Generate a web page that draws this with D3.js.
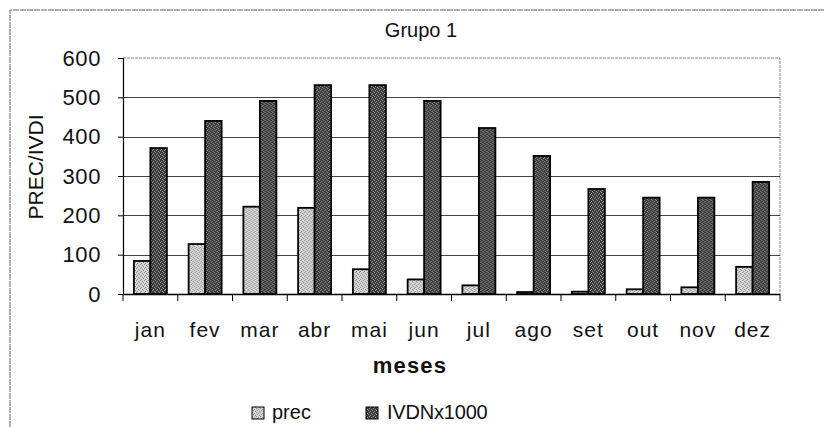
<!DOCTYPE html>
<html>
<head>
<meta charset="utf-8">
<script src="https://cdn.jsdelivr.net/npm/d3@7"></script>
<style>
  html, body { margin: 0; padding: 0; background: #fff; }
  svg { display: block; }
  text { font-family: "Liberation Sans", Arial, sans-serif; fill: #111; }
</style>
</head>
<body>
<svg id="chart" width="824" height="427"></svg>
<script>
// Monthly precipitation and NDVI (x1000), Grupo 1
const months = ["jan", "fev", "mar", "abr", "mai", "jun", "jul", "ago", "set", "out", "nov", "dez"];
const prec = [84, 127, 222, 219, 63, 37, 22, 5, 6, 12, 17, 69];
const ndvi = [371, 440, 491, 531, 531, 491, 422, 351, 267, 245, 245, 285];
const seriesNames = ["prec", "IVDNx1000"];
const yTicks = [0, 100, 200, 300, 400, 500, 600];

const svg = d3.select("#chart");
const margin = { left: 123, right: 44, top: 58, bottom: 133 };
const W = 824, H = 427;
const plotW = W - margin.left - margin.right;
const plotH = H - margin.top - margin.bottom;
const FONT = "Liberation Sans, Arial, sans-serif";

// stipple fills
const defs = svg.append("defs");
function stipple(id, base, dot, dots) {
  const p = defs.append("pattern").attr("id", id)
    .attr("patternUnits", "userSpaceOnUse").attr("width", 4).attr("height", 4);
  p.append("rect").attr("width", 4).attr("height", 4).attr("fill", base);
  dots.forEach(([x, y]) => p.append("rect").attr("x", x).attr("y", y)
    .attr("width", 1).attr("height", 1).attr("fill", dot));
}
stipple("fillPrec", "#d6d6d6", "#888", [[0, 0], [2, 1], [1, 2], [3, 3]]);
stipple("fillNdvi", "#3a3a3a", "#999", [[1, 0], [3, 1], [0, 2], [2, 3]]);
const fills = ["url(#fillPrec)", "url(#fillNdvi)"];

// outer chart frame
svg.append("path").attr("d", `M10,${H} V10 H${W}`)
  .attr("fill", "none").attr("stroke", "#666").attr("stroke-width", 1)
  .attr("stroke-dasharray", "6,1");

const g = svg.append("g").attr("transform", `translate(${margin.left},${margin.top})`);

const x0 = d3.scaleBand().domain(months).range([0, plotW]).paddingInner(0).paddingOuter(0);
const x1 = d3.scaleBand().domain(seriesNames).range([0, x0.bandwidth()])
  .paddingInner(0).paddingOuter(0.66);
const y = d3.scaleLinear().domain([0, 600]).range([plotH, 0]);

// plot area border (top and right)
g.append("path").attr("d", `M0,0 H${plotW} V${plotH}`)
  .attr("fill", "none").attr("stroke", "#888").attr("stroke-width", 1)
  .attr("stroke-dasharray", "3,1");

// gridlines
g.append("g").selectAll("line").data(yTicks.filter(t => t > 0 && t < 600)).join("line")
  .attr("x1", 0).attr("x2", plotW)
  .attr("y1", d => Math.round(y(d)) + 0.5).attr("y2", d => Math.round(y(d)) + 0.5)
  .attr("stroke", "#444").attr("stroke-width", 1);

// bars
const rows = months.map((m, i) => ({ m, vals: [prec[i], ndvi[i]] }));
const grp = g.append("g").selectAll("g").data(rows).join("g")
  .attr("transform", d => `translate(${x0(d.m)},0)`);
grp.selectAll("rect").data(d => d.vals.map((v, k) => ({ v, k }))).join("rect")
  .attr("x", d => x1(seriesNames[d.k]))
  .attr("width", x1.bandwidth())
  .attr("y", d => y(d.v))
  .attr("height", d => y(0) - y(d.v))
  .attr("fill", d => fills[d.k])
  .attr("stroke", "#000").attr("stroke-width", 1.8);

// y axis
const yAxis = g.append("g").call(d3.axisLeft(y).tickValues(yTicks).tickSize(5).tickPadding(17));
yAxis.select(".domain").attr("stroke", "#000").attr("stroke-width", 1.2);
yAxis.selectAll(".tick line").attr("stroke", "#000");
yAxis.selectAll(".tick text").attr("font-size", 22).attr("letter-spacing", 0.6)
  .attr("font-family", FONT).attr("fill", "#111");

// x axis with ticks at category boundaries
const xAxis = g.append("g").attr("transform", `translate(0,${plotH})`);
xAxis.append("line").attr("x1", 0).attr("x2", plotW).attr("y1", 0.5).attr("y2", 0.5)
  .attr("stroke", "#000").attr("stroke-width", 1.5);
const bounds = months.map(m => x0(m)).concat([plotW]);
xAxis.selectAll("line.tk").data(bounds).join("line").attr("class", "tk")
  .attr("x1", d => d).attr("x2", d => d).attr("y1", 0).attr("y2", 7)
  .attr("stroke", "#000").attr("stroke-width", 1);
xAxis.selectAll("text").data(months).join("text")
  .attr("x", d => x0(d) + x0.bandwidth() / 2)
  .attr("y", 43)
  .attr("text-anchor", "middle")
  .attr("font-size", 21)
  .attr("letter-spacing", 1)
  .text(d => d);

// titles
svg.append("text").attr("x", 421).attr("y", 37).attr("text-anchor", "middle")
  .attr("font-size", 20).text("Grupo 1");
svg.append("text").attr("x", 410).attr("y", 373).attr("text-anchor", "middle")
  .attr("font-size", 22).attr("font-weight", "bold").attr("letter-spacing", 1.2).text("meses");
svg.append("text").attr("transform", `translate(43,167) rotate(-90)`)
  .attr("text-anchor", "middle").attr("font-size", 21).text("PREC/IVDI");

// legend
const legend = svg.append("g");
const legendX = [252, 366];
seriesNames.forEach((s, k) => {
  legend.append("rect").attr("x", legendX[k]).attr("y", 407).attr("width", 12).attr("height", 12)
    .attr("fill", fills[k]).attr("stroke", "#000").attr("stroke-width", 1);
  legend.append("text").attr("x", legendX[k] + (k === 0 ? 20 : 21)).attr("y", 419)
    .attr("font-size", 20).attr("letter-spacing", k === 1 ? -0.2 : 0).text(s);
});
</script>
</body>
</html>
